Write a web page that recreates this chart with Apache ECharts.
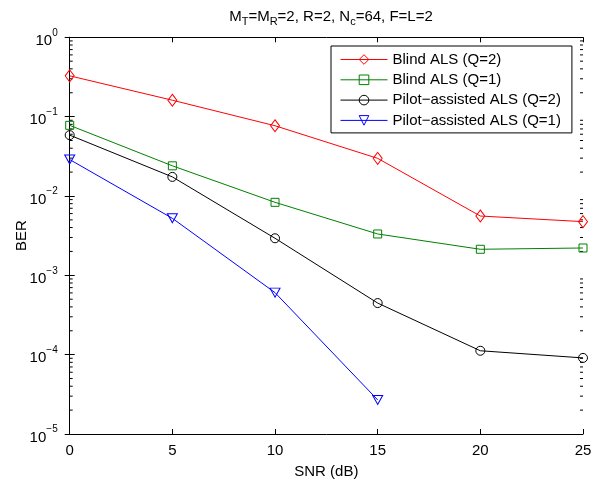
<!DOCTYPE html>
<html>
<head>
<meta charset="utf-8">
<script src="https://cdn.jsdelivr.net/npm/echarts@6/dist/echarts.min.js"></script>
<style>html,body{margin:0;padding:0;background:#fff;}#c{width:601px;height:484px;}</style>
</head>
<body>
<div id="c"></div>
<script>
var snr = [0, 5, 10, 15, 20, 25];
var blindQ2 = [0.327, 0.161, 0.0768, 0.0298, 0.00559, 0.00475];
var blindQ1 = [0.0777, 0.0240, 0.00832, 0.00332, 0.00213, 0.00221];
var pilotQ2 = [0.0585, 0.0174, 0.00293, 0.000447, 0.000112, 0.0000910];
var pilotQ1 = [0.0288, 0.00523, 0.000605, 0.0000269];
var seriesNames = ['Blind ALS (Q=2)', 'Blind ALS (Q=1)', 'Pilot\u2212assisted ALS (Q=2)', 'Pilot\u2212assisted ALS (Q=1)'];
var xTicks = [0, 5, 10, 15, 20, 25];
var yDecades = [-5, -4, -3, -2, -1, 0];

var FONT = 'Liberation Sans, Arial, sans-serif';
var FS = 15;
var minorVals = [];
for (var n = -5; n < 0; n++) for (var k = 2; k <= 9; k++) minorVals.push([k * Math.pow(10, n)]);

function pairs(xs, ys) { return ys.map(function (v, i) { return [xs[i], v]; }); }

function mk(name, data, color, symbol, size, rot) {
  return {
    name: name, type: 'line', data: data, xAxisIndex: 0, yAxisIndex: 0,
    symbol: symbol, symbolSize: size, symbolRotate: rot || 0, showSymbol: true,
    color: color,
    lineStyle: { color: color, width: 1 },
    itemStyle: { color: 'rgba(255,255,255,0)', borderColor: color, borderWidth: 1 },
    emphasis: { disabled: true }, animation: false, z: 3
  };
}

var chart = echarts.init(document.getElementById('c'), null, { renderer: 'canvas' });
var axisCommon = {
  axisLine: { show: true, lineStyle: { color: '#000', width: 1 } },
  axisTick: { show: true, inside: true, length: 5, lineStyle: { color: '#000' } },
  splitLine: { show: false }
};
var option = {
  backgroundColor: '#fff',
  animation: false,
  title: {
    text: 'M{s|T}=M{s|R}=2, R=2, N{s|c}=64, F=L=2',
    left: 326, top: 2, textAlign: 'center',
    textStyle: {
      fontFamily: FONT, fontSize: FS, fontWeight: 'normal', color: '#000',
      rich: { s: { fontFamily: FONT, fontSize: 11, color: '#000', padding: [9, 0, 0, 0] } }
    }
  },
  grid: { left: 69.7, right: 18, top: 37.3, bottom: 41.5, containLabel: false },
  legend: {
    data: seriesNames,
    orient: 'vertical', left: 331, top: 46,
    itemWidth: 47, itemHeight: 12, itemGap: 5.3,
    padding: [6, 11, 5, 9],
    borderColor: '#000', borderWidth: 1, backgroundColor: '#fff',
    textStyle: { fontFamily: FONT, fontSize: FS, lineHeight: 14, color: '#000' },
    lineStyle: { width: 1 },
    itemStyle: { borderWidth: 1 },
    selectedMode: false
  },
  xAxis: [
    Object.assign({
      type: 'value', min: 0, max: 25, interval: 5, position: 'bottom',
      name: 'SNR (dB)', nameLocation: 'middle', nameGap: 30, nameMoveOverlap: false,
      nameTextStyle: { fontFamily: FONT, fontSize: FS, color: '#000' },
      axisLabel: { fontFamily: FONT, fontSize: FS, color: '#000', margin: 9 }
    }, axisCommon),
    Object.assign({
      type: 'value', min: 0, max: 25, interval: 5, position: 'top',
      axisLabel: { show: false }
    }, axisCommon)
  ],
  yAxis: [
    Object.assign({
      type: 'log', logBase: 10, min: 1e-5, max: 1, position: 'left', splitNumber: 5,
      name: 'BER', nameLocation: 'middle', nameGap: 40, nameRotate: 90, nameMoveOverlap: false,
      nameTextStyle: { fontFamily: FONT, fontSize: FS, color: '#000' },
      axisLabel: {
        margin: 12,
        formatter: function (v) {
          var e = Math.round(Math.log10(v));
          return '{b|10}{s|' + (e < 0 ? '\u2212' + (-e) : e) + '}';
        },
        rich: {
          b: { fontFamily: FONT, fontSize: FS, color: '#000', padding: [7, 0, 0, 0] },
          s: { fontFamily: FONT, fontSize: 10, color: '#000', padding: [0, 0, 9, 0] }
        }
      }
    }, axisCommon),
    Object.assign({
      type: 'log', logBase: 10, min: 1e-5, max: 1, position: 'right', splitNumber: 5,
      axisLabel: { show: false }
    }, axisCommon)
  ],
  series: [
    mk(seriesNames[0], pairs(snr, blindQ2), '#ff0000', 'diamond', [9, 12]),
    mk(seriesNames[1], pairs(snr, blindQ1), '#008000', 'rect', [8, 8]),
    mk(seriesNames[2], pairs(snr, pilotQ2), '#000000', 'circle', 9),
    mk(seriesNames[3], pairs(snr, pilotQ1), '#0000ff', 'triangle', [10, 9], 180),
    {
      type: 'custom', xAxisIndex: 0, yAxisIndex: 0, data: minorVals, silent: true, z: 2,
      renderItem: function (params, api) {
        var v = api.value(0);
        var pl = api.coord([0, v]);
        var pr = api.coord([25, v]);
        return {
          type: 'group', children: [
            { type: 'line', shape: { x1: pl[0], y1: pl[1], x2: pl[0] + 3, y2: pl[1] }, style: { stroke: '#000', lineWidth: 1 } },
            { type: 'line', shape: { x1: pr[0], y1: pr[1], x2: pr[0] - 3, y2: pr[1] }, style: { stroke: '#000', lineWidth: 1 } }
          ]
        };
      }
    }
  ]
};
chart.setOption(option);
</script>
</body>
</html>
